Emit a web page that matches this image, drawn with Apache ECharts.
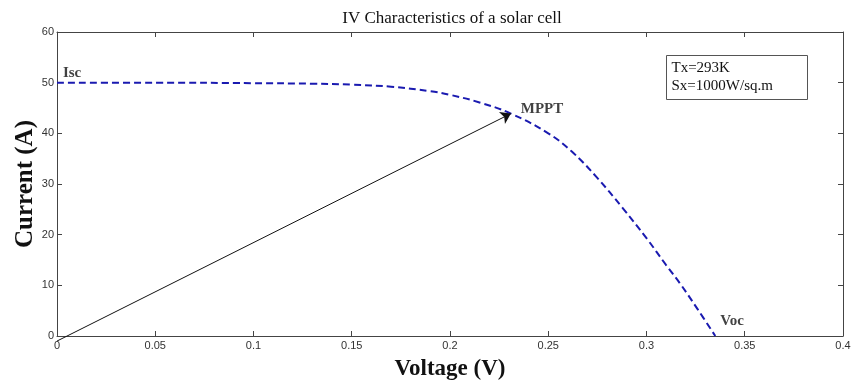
<!DOCTYPE html>
<html>
<head>
<meta charset="utf-8">
<script src="https://cdn.jsdelivr.net/npm/echarts@6/dist/echarts.min.js"></script>
<style>html,body{margin:0;padding:0;background:#fff}#c{width:852px;height:385px}</style>
</head>
<body>
<div id="c"></div>
<script>
// Data
var voltage = [0, 0.05, 0.1, 0.13, 0.15, 0.17, 0.19, 0.2, 0.215, 0.231, 0.25, 0.262, 0.2745, 0.288, 0.3, 0.31, 0.317, 0.326, 0.335];
var current = [50, 50, 49.9, 49.8, 49.6, 49.2, 48.3, 47.6, 46.1, 43.9, 40.0, 36.4, 31.4, 25.2, 19.3, 14.0, 10.4, 5.3, 0];
var xTicks = [0, 0.05, 0.1, 0.15, 0.2, 0.25, 0.3, 0.35, 0.4];
var yTicks = [0, 10, 20, 30, 40, 50, 60];
var arrowStart = [0, -1];
var mppt = [0.231, 43.9];
var pointLabels = [
  {name: 'Isc', value: [0.003, 51.9]},
  {name: 'MPPT', value: [0.236, 44.8]},
  {name: 'Voc', value: [0.3375, 3.0]}
];
var infoLines = ['Tx=293K', 'Sx=1000W/sq.m'];

var chart = echarts.init(document.getElementById('c'), null, {renderer: 'canvas'});
var serif = '"Liberation Serif","DejaVu Serif",serif';
var sans = '"Liberation Sans",Arial,sans-serif';
var curveData = voltage.map(function (v, i) { return [v, current[i]]; });

function axisBase(extra) {
  var base = {
    type: 'value',
    axisLine: {show: true, onZero: false, lineStyle: {color: '#444', width: 1}},
    axisTick: {show: true, inside: true, length: 5, lineStyle: {color: '#444'}},
    splitLine: {show: false}
  };
  for (var k in extra) base[k] = extra[k];
  return base;
}

chart.setOption({
  animation: false,
  backgroundColor: '#fff',
  title: {
    text: 'IV Characteristics of a solar cell',
    left: 447, top: 5, textAlign: 'center',
    textStyle: {fontFamily: serif, fontSize: 17, fontWeight: 'normal', color: '#111'}
  },
  grid: {left: 57, right: 9, top: 32, bottom: 49, containLabel: false, outerBoundsMode: 'none'},
  xAxis: [
    axisBase({
      position: 'bottom', min: 0, max: 0.4, interval: 0.05,
      axisLabel: {fontFamily: sans, fontSize: 11, color: '#333', margin: 4,
        formatter: function (v) { return xTicks.indexOf(+v.toFixed(2)) >= 0 ? String(+v.toFixed(2)) : ''; }},
      name: 'Voltage (V)', nameLocation: 'middle', nameGap: 22,
      nameTextStyle: {fontFamily: serif, fontSize: 23, fontWeight: 'bold', color: '#111'}
    }),
    axisBase({position: 'top', min: 0, max: 0.4, interval: 0.05, axisLabel: {show: false}})
  ],
  yAxis: [
    axisBase({
      position: 'left', min: 0, max: 60, interval: 10,
      axisLabel: {fontFamily: sans, fontSize: 11, color: '#333', margin: 3},
      name: 'Current (A)', nameLocation: 'middle', nameGap: 19, nameMoveOverlap: false,
      nameTextStyle: {fontFamily: serif, fontSize: 25, fontWeight: 'bold', color: '#111'}
    }),
    axisBase({position: 'right', min: 0, max: 60, interval: 10, axisLabel: {show: false}})
  ],
  series: [
    {
      type: 'line', data: curveData, smooth: 0.4, showSymbol: false,
      lineStyle: {color: '#1a1ab0', width: 2, type: [7, 4]},
      z: 3
    },
    {
      type: 'lines', coordinateSystem: 'cartesian2d', clip: false,
      symbol: ['none', 'arrow'], symbolSize: [0, 10],
      lineStyle: {color: '#111', width: 1, opacity: 1},
      data: [{coords: [arrowStart, mppt]}],
      z: 4
    },
    {
      type: 'scatter', data: pointLabels, symbolSize: 0,
      label: {
        show: true, position: 'right', distance: 0,
        formatter: function (p) { return p.name; },
        fontFamily: serif, fontSize: 15, fontWeight: 'bold', color: '#111'
      },
      z: 5
    }
  ],
  graphic: [{
    type: 'group', left: 666, top: 55,
    children: [
      {type: 'rect', shape: {x: 0, y: 0, width: 141, height: 44},
        style: {fill: '#fff', stroke: '#555', lineWidth: 1}},
      {type: 'text', left: 5, top: 4,
        style: {text: infoLines.join('\n'), font: '15px ' + serif, fill: '#111', lineHeight: 18}}
    ]
  }]
});
</script>
</body>
</html>
